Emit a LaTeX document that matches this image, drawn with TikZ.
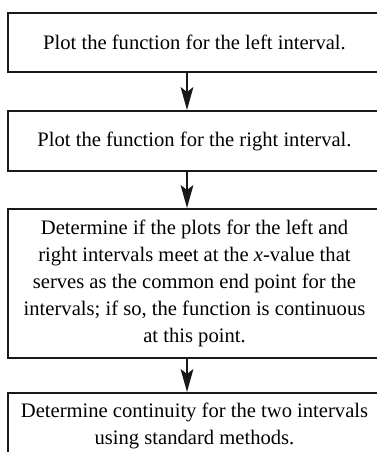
\documentclass[tikz,border=0pt]{standalone}
\usepackage{fontspec}
\setmainfont{Liberation Serif}
\usepackage{tikz}
\usetikzlibrary{positioning, arrows.meta}
\tikzset{
  stepbox/.style={draw=black!90, line width=1pt, minimum width=186.5pt, inner sep=2pt,
    align=center, font={\fontsize{10.3}{13.5}\selectfont}},
  flowarrow/.style={-{Stealth[length=11.5pt, width=6.4pt, inset=2.5pt]}, line width=0.7pt, black!90},
}

\begin{document}
\begin{tikzpicture}[x=0.5pt, y=-0.5pt]
  \useasboundingbox (0,0) rectangle (377,452);
  \clip (0,0) rectangle (377,452);
  \node[stepbox, minimum height=29.5pt] (left) at (194.5,42.5) {Plot the function for the left interval.};
  \node[stepbox, minimum height=30pt] (right) at (194.5,141) {Plot the function for the right interval.};
  \node[stepbox, minimum height=74.5pt] (meet) at (194.5,283.5) {Determine if the plots for the left and\\
    right intervals meet at the \textit{x}-value that\\
    serves as the common end point for the\\
    intervals; if so, the function is continuous\\
    at this point.};
  \node[stepbox, minimum height=33pt] (cont) at (194.5,426) {Determine continuity for the two intervals\\
    using standard methods.};
  \draw[flowarrow] ([xshift=-3.75pt]left.south) -- ([xshift=-3.75pt]right.north);
  \draw[flowarrow] ([xshift=-3.75pt]right.south) -- ([xshift=-3.75pt]meet.north);
  \draw[flowarrow] ([xshift=-3.75pt]meet.south) -- ([xshift=-3.75pt]cont.north);
\end{tikzpicture}
\end{document}
